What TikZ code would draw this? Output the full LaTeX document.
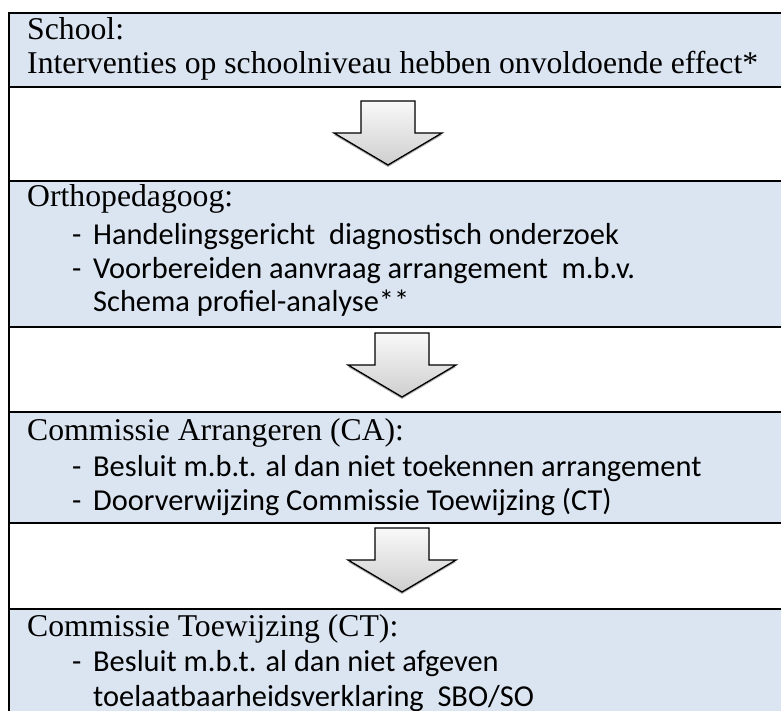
\documentclass[tikz,border=0pt]{standalone}
\usepackage{fontspec}
\setmainfont{Liberation Serif}
\newfontfamily\calibri{Carlito}
\usetikzlibrary{shadows}
\definecolor{rowblue}{HTML}{DBE5F1}
\begin{document}
\begin{tikzpicture}[x=1pt,y=-1pt,
  rule/.style={line width=2.5pt, draw=black},
  rowfill/.style={fill=rowblue, draw=none},
  headtext/.style={anchor=base west, inner sep=0pt, font=\fontsize{31.7}{36}\selectfont},
  itemtext/.style={anchor=base west, inner sep=0pt, font=\calibri\fontsize{30.4}{36}\selectfont},
  blockarrow/.style={draw=black, line width=1.3pt, line join=miter,
    top color=gray!5, bottom color=gray!38,
    drop shadow={shadow xshift=0pt, shadow yshift=-2pt, opacity=0.3, fill=black}},
  pics/downarrow/.style={code={
    \path[blockarrow] (-27,0) -- (27,0) -- (27,32) -- (54,32) -- (0,64) -- (-54,32) -- (-27,32) -- cycle;
  }}
]
\useasboundingbox[fill=white] (0,0) rectangle (781,711);

% row fills
\path[rowfill] (9,13) rectangle (781,87);
\path[rowfill] (9,181) rectangle (781,327);
\path[rowfill] (9,412) rectangle (781,523);
\path[rowfill] (9,609) rectangle (781,711);

% rules
\foreach \yy in {13,87,181,327,412,523,609}
  \draw[rule] (9,\yy) -- (781,\yy);
\draw[rule] (9,12) -- (9,711);

% arrows
\pic at (388,101) {downarrow};
\pic at (402,333) {downarrow};
\pic at (402,528) {downarrow};

% row 1
\node[headtext] (s1) at (27,40) {School:};
\node[headtext] (s2) at (27,74) {Interventies op schoolniveau hebben onvoldoende effect*};

% row 3
\node[headtext] (o0) at (27,207) {Orthopedagoog:};
\node[itemtext] (od1) at (72,244) {-};
\node[itemtext] (o1) at (93,244) {Handelingsgericht\ \ diagnostisch onderzoek};
\node[itemtext] (od2) at (72,278) {-};
\node[itemtext] (o2) at (93,278) {Voorbereiden aanvraag arrangement\ \ m.b.v.};
\node[itemtext] (o3) at (93,311) {Schema profiel-analyse**};

% row 5
\node[headtext] (c0) at (27,440) {Commissie Arrangeren (CA):};
\node[itemtext] (cd1) at (72,476) {-};
\node[itemtext] (c1) at (93,476) {Besluit m.b.t. al dan niet toekennen arrangement};
\node[itemtext] (cd2) at (72,510) {-};
\node[itemtext] (c2) at (93,510) {Doorverwijzing Commissie Toewijzing (CT)};

% row 7
\node[headtext] (t0) at (27,636) {Commissie Toewijzing (CT):};
\node[itemtext] (td1) at (72,671) {-};
\node[itemtext] (t1) at (93,671) {Besluit m.b.t. al dan niet afgeven};
\node[itemtext] (t2) at (93,706) {toelaatbaarheidsverklaring\ \ SBO/SO};
\end{tikzpicture}
\end{document}
